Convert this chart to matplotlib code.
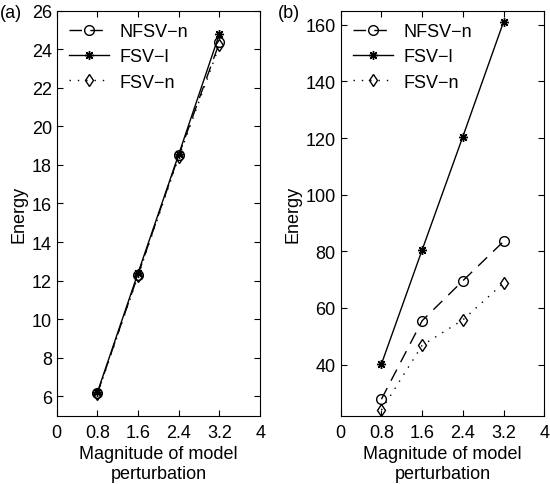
import matplotlib
matplotlib.use("Agg")
import matplotlib.pyplot as plt

plt.rcParams['font.family'] = ['Liberation Sans', 'DejaVu Sans']

magnitude = [0.8, 1.6, 2.4, 3.2]
x_ticks = [0, 0.8, 1.6, 2.4, 3.2, 4]
x_ticklabels = ["0", "0.8", "1.6", "2.4", "3.2", "4"]

# panel (a)
a_nfsv_n = [6.15, 12.3, 18.5, 24.35]
a_fsv_l = [6.2, 12.4, 18.55, 24.8]
a_fsv_n = [6.1, 12.25, 18.4, 24.2]

# panel (b)
b_nfsv_n = [27.8, 55.5, 69.6, 83.5]
b_fsv_l = [40.2, 80.5, 120.5, 161.0]
b_fsv_n = [24.0, 46.8, 55.8, 68.8]

asterisk = (8, 2, 0)
FS = 13


def draw(ax, nfsv_n, fsv_l, fsv_n):
    ax.plot(magnitude, nfsv_n, linestyle=(0, (9, 6)), color="black", lw=1.0,
            marker="o", ms=7, mfc="none", mec="black", mew=1.0, label="NFSV\u2212n")
    ax.plot(magnitude, fsv_l, linestyle="-", color="black", lw=1.0,
            marker=asterisk, ms=6.5, mec="black", mew=1.0, label="FSV\u2212l")
    ax.plot(magnitude, fsv_n, linestyle=(0, (1, 5)), color="black", lw=1.0,
            marker="d", ms=6.5, mfc="none", mec="black", mew=1.0, label="FSV\u2212n")
    ax.set_xlim(0, 4)
    ax.set_xticks(x_ticks)
    ax.set_xticklabels(x_ticklabels)
    ax.tick_params(direction="in", top=True, right=True, labelsize=FS, length=4)
    ax.tick_params(axis="x", pad=6)
    ax.set_xlabel("Magnitude of model\nperturbation", fontsize=FS, labelpad=3)
    ax.set_ylabel("Energy", fontsize=FS, labelpad=3)
    ax.legend(loc="upper left", frameon=False, fontsize=FS, handlelength=2.2,
              handletextpad=0.6, borderaxespad=0.3, labelspacing=0.45)


fig = plt.figure(figsize=(5.5, 4.85), dpi=100)
ax1 = fig.add_axes([0.103, 0.141, 0.370, 0.835])
ax2 = fig.add_axes([0.6195, 0.141, 0.370, 0.835])

draw(ax1, a_nfsv_n, a_fsv_l, a_fsv_n)
ax1.set_ylim(5, 26)
ax1.set_yticks(range(6, 27, 2))

draw(ax2, b_nfsv_n, b_fsv_l, b_fsv_n)
ax2.set_ylim(22, 165)
ax2.set_yticks(range(40, 161, 20))

fig.text(0.0, 0.972, "(a)", fontsize=FS, va="center")
fig.text(0.505, 0.972, "(b)", fontsize=FS, va="center")

fig.savefig("out.png", dpi=100)
